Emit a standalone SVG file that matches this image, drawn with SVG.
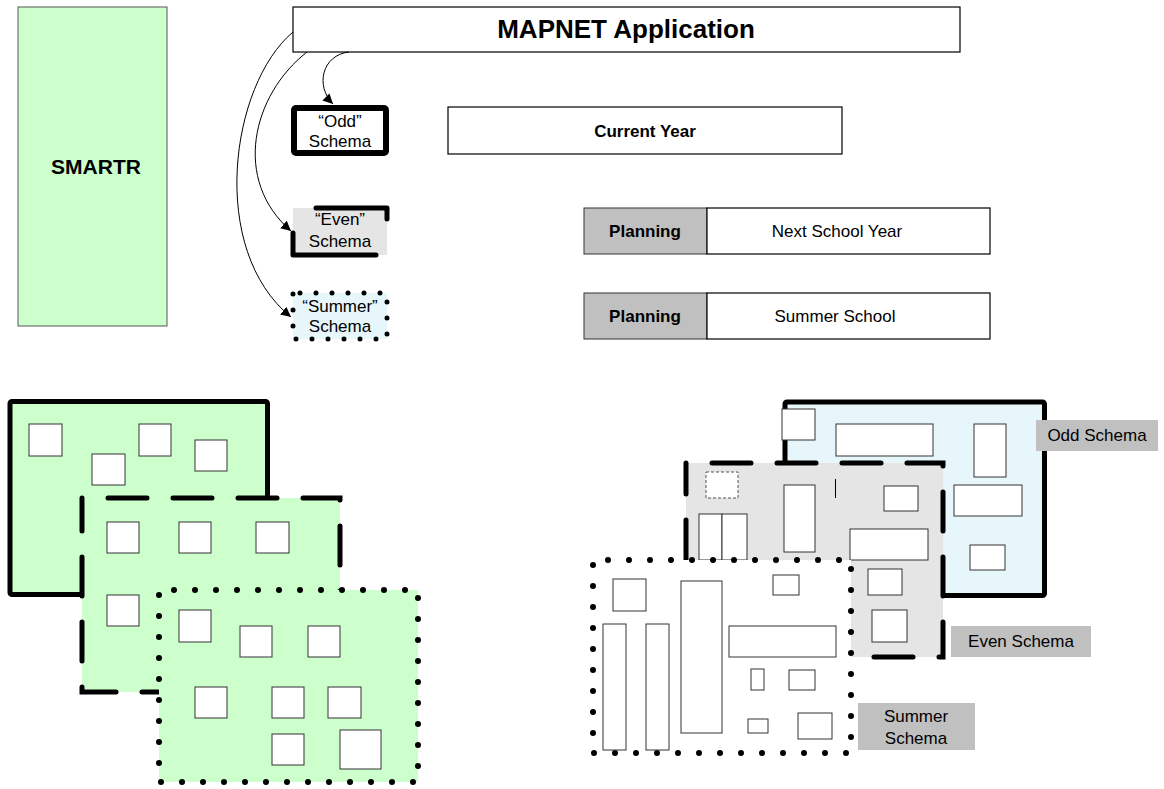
<svg xmlns="http://www.w3.org/2000/svg" width="1164" height="789" viewBox="0 0 1164 789">
  <style>
    text { font-family: "Liberation Sans", Arial, sans-serif; fill: #000; }
    .b { font-weight: bold; }
    .t17 { font-size: 17px; }
    .box { fill: #fff; stroke: #000; stroke-width: 1.2; }
    .gray { fill: #c0c0c0; }
    .cell { fill: #fff; stroke: #333; stroke-width: 1; }
    .green { fill: #ccffcc; }
    .solid { stroke: #000; stroke-width: 5; stroke-linejoin: round; }
    .dash { stroke: #000; stroke-width: 5; stroke-linecap: round; stroke-dasharray: 39 26; stroke-dashoffset: 39; }
    .dots { stroke: #000; stroke-width: 6; stroke-linecap: round; stroke-dasharray: 0 21; stroke-dashoffset: 6; }
    .conn { fill: none; stroke: #000; stroke-width: 1; }
  </style>
  <defs>
    <marker id="arrow" markerUnits="userSpaceOnUse" markerWidth="10" markerHeight="10" viewBox="0 0 10 10" refX="10" refY="5" orient="auto">
      <path d="M0,0 L10,5 L0,10 z" fill="#000"/>
    </marker>
  </defs>

  <!-- top: systems and schemas -->
  <g id="smartr">
    <rect x="18" y="7" width="149" height="319" fill="#ccffcc" stroke="#555" stroke-width="1"/>
    <text x="96" y="174" text-anchor="middle" class="b" font-size="21">SMARTR</text>
  </g>

  <g id="mapnet">
    <rect x="293" y="7" width="667" height="45" class="box"/>
    <text x="626" y="38" text-anchor="middle" class="b" font-size="26">MAPNET Application</text>
  </g>

  <g id="odd-schema">
    <rect x="294" y="108" width="92" height="45" rx="2" fill="#fff" stroke="#000" stroke-width="6"/>
    <text x="340" y="127" text-anchor="middle" class="t17">“Odd”</text>
    <text x="340" y="147" text-anchor="middle" class="t17">Schema</text>
  </g>

  <g id="even-schema">
    <rect x="293" y="208" width="94" height="47" fill="#e5e5e5"/>
    <path d="M316,208 H387 V219 M293,233 V255 H376" fill="none" stroke="#000" stroke-width="5" stroke-linecap="round" stroke-linejoin="round"/>
    <text x="340" y="225" text-anchor="middle" class="t17">“Even”</text>
    <text x="340" y="247" text-anchor="middle" class="t17">Schema</text>
  </g>

  <g id="summer-schema">
    <rect x="293" y="293" width="94" height="46" fill="#e6f6fb" stroke="#000" stroke-width="5" stroke-linecap="round" stroke-dasharray="0 16" stroke-dashoffset="9"/>
    <text x="340" y="312" text-anchor="middle" class="t17">“Summer”</text>
    <text x="340" y="332" text-anchor="middle" class="t17">Schema</text>
  </g>

  <g id="current-year">
    <rect x="448" y="107" width="394" height="47" class="box"/>
    <text x="645" y="137" text-anchor="middle" class="b t17">Current Year</text>
  </g>

  <g id="next-school-year">
    <rect x="584" y="208" width="123" height="46" class="gray" stroke="#333" stroke-width="1"/>
    <rect x="707" y="208" width="283" height="46" class="box"/>
    <text x="645" y="237" text-anchor="middle" class="b t17">Planning</text>
    <text x="837" y="237" text-anchor="middle" class="t17">Next School Year</text>
  </g>

  <g id="summer-school">
    <rect x="584" y="293" width="123" height="46" class="gray" stroke="#333" stroke-width="1"/>
    <rect x="707" y="293" width="283" height="46" class="box"/>
    <text x="645" y="322" text-anchor="middle" class="b t17">Planning</text>
    <text x="835" y="322" text-anchor="middle" class="t17">Summer School</text>
  </g>

  <g id="connectors">
    <path class="conn" d="M349,52 C322,55 315,86 333,104" marker-end="url(#arrow)"/>
    <path class="conn" d="M307,52 C252,95 232,180 291,231" marker-end="url(#arrow)"/>
    <path class="conn" d="M293,32 C230,85 208,250 291,317" marker-end="url(#arrow)"/>
  </g>

  <!-- bottom left: stacked SMARTR layers -->
  <g id="smartr-odd">
    <rect x="10" y="401.5" width="257.5" height="193" class="green solid" rx="2"/>
    <rect x="29" y="424" width="33" height="32" class="cell"/>
    <rect x="92" y="454" width="33" height="31" class="cell"/>
    <rect x="139" y="424" width="32" height="32" class="cell"/>
    <rect x="195" y="440" width="32" height="31" class="cell"/>
  </g>

  <g id="smartr-even">
    <rect x="82" y="498" width="258" height="194" class="green dash"/>
    <rect x="107" y="522" width="32" height="31" class="cell"/>
    <rect x="179" y="522" width="32" height="31" class="cell"/>
    <rect x="256" y="522" width="33" height="31" class="cell"/>
    <rect x="107" y="595" width="32" height="31" class="cell"/>
  </g>

  <g id="smartr-summer">
    <rect x="159" y="590" width="259" height="192" class="green dots"/>
    <rect x="179" y="610" width="32" height="32" class="cell"/>
    <rect x="240" y="626" width="32" height="31" class="cell"/>
    <rect x="308" y="626" width="32" height="31" class="cell"/>
    <rect x="195" y="687" width="32" height="31" class="cell"/>
    <rect x="272" y="687" width="32" height="31" class="cell"/>
    <rect x="328" y="687" width="33" height="31" class="cell"/>
    <rect x="272" y="734" width="32" height="31" class="cell"/>
    <rect x="340" y="730" width="41" height="39" class="cell"/>
  </g>

  <!-- bottom right: stacked MAPNET schemas -->
  <g id="mapnet-odd">
    <rect x="785" y="402" width="259.5" height="193.5" fill="#e6f6fb" class="solid" rx="2"/>
    <rect x="782" y="409" width="33" height="31" class="cell"/>
    <rect x="836" y="424" width="97" height="32" class="cell"/>
    <rect x="974" y="424" width="32" height="53" class="cell"/>
    <rect x="954" y="485" width="68" height="31" class="cell"/>
    <rect x="970" y="545" width="35" height="25" class="cell"/>
  </g>

  <g id="mapnet-even">
    <rect x="686" y="463" width="257" height="194" fill="#e5e5e5" class="dash"/>
    <rect x="706" y="472" width="32" height="26" fill="#fff" stroke="#555" stroke-width="1" stroke-dasharray="3 2"/>
    <rect x="699" y="514" width="23" height="46" class="cell"/>
    <rect x="722" y="514" width="25" height="46" class="cell"/>
    <rect x="784" y="485" width="31" height="67" class="cell"/>
    <line x1="835.5" y1="479" x2="835.5" y2="498" stroke="#000" stroke-width="1"/>
    <rect x="884" y="486" width="34" height="25" class="cell"/>
    <rect x="850" y="529" width="78" height="31" class="cell"/>
    <rect x="868" y="569" width="34" height="26" class="cell"/>
    <rect x="872" y="610" width="35" height="32" class="cell"/>
  </g>

  <g id="mapnet-summer">
    <rect x="593" y="560" width="258" height="193" fill="#fff" class="dots"/>
    <rect x="613" y="579" width="33" height="32" class="cell"/>
    <rect x="603" y="624" width="23" height="126" class="cell"/>
    <rect x="646" y="624" width="23" height="126" class="cell"/>
    <rect x="681" y="581" width="41" height="152" class="cell"/>
    <rect x="773" y="575" width="26" height="20" class="cell"/>
    <rect x="729" y="626" width="107" height="31" class="cell"/>
    <rect x="751" y="669" width="13" height="21" class="cell"/>
    <rect x="789" y="670" width="26" height="20" class="cell"/>
    <rect x="748" y="719" width="20" height="14" class="cell"/>
    <rect x="798" y="713" width="34" height="26" class="cell"/>
  </g>

  <g id="label-odd">
    <rect x="1036" y="420" width="122" height="31" class="gray"/>
    <text x="1097" y="441" text-anchor="middle" class="t17">Odd Schema</text>
  </g>

  <g id="label-even">
    <rect x="951" y="626" width="140" height="31" class="gray"/>
    <text x="1021" y="647" text-anchor="middle" class="t17">Even Schema</text>
  </g>

  <g id="label-summer">
    <rect x="858" y="703" width="117" height="47" class="gray"/>
    <text x="916" y="722" text-anchor="middle" class="t17">Summer</text>
    <text x="916" y="744" text-anchor="middle" class="t17">Schema</text>
  </g>
</svg>
